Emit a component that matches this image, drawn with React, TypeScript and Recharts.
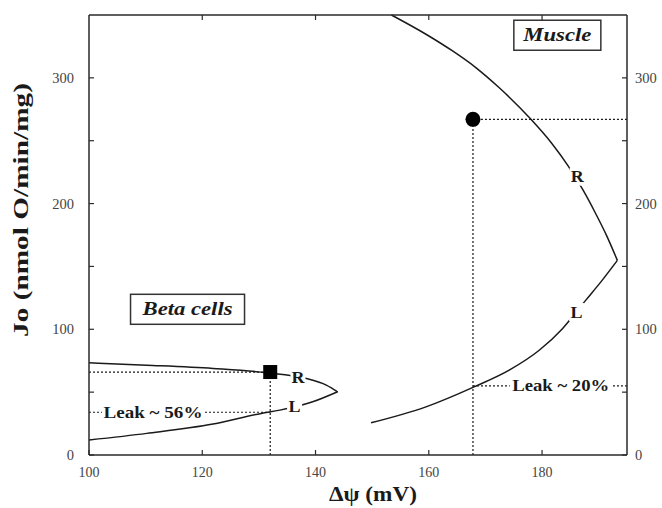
import React from "react";
import {
  ComposedChart,
  Line,
  Scatter,
  XAxis,
  YAxis,
  ReferenceLine,
  ReferenceDot,
} from "recharts";

const xTicks = [100, 120, 140, 160, 180];
const xTopTicks = [120, 140, 160, 180];
const yTicks = [0, 50, 100, 150, 200, 250, 300];

// muscle curve, upper (R) and lower (L) branch
const muscleUpper = [
  { x: 153.4, y: 350 },
  { x: 159.5, y: 334.7 },
  { x: 164.2, y: 321.4 },
  { x: 168.3, y: 308.2 },
  { x: 172.4, y: 292.3 },
  { x: 178.0, y: 267.2 },
  { x: 181.8, y: 247.4 },
  { x: 184.6, y: 230.0 },
  { x: 187.2, y: 211.0 },
  { x: 189.3, y: 193.5 },
  { x: 191.4, y: 174.5 },
  { x: 193.3, y: 154.8 },
];
const muscleLower = [
  { x: 149.8, y: 25.6 },
  { x: 159.5, y: 38.3 },
  { x: 168.0, y: 54.2 },
  { x: 174.2, y: 67.5 },
  { x: 179.5, y: 83.3 },
  { x: 183.6, y: 100.5 },
  { x: 187.7, y: 123 },
  { x: 190.6, y: 138.9 },
  { x: 193.3, y: 154.8 },
];

// beta cell curve
const betaUpper = [
  { x: 100, y: 73.3 },
  { x: 110.2, y: 71.4 },
  { x: 121.9, y: 68.8 },
  { x: 131.3, y: 65.5 },
  { x: 138.4, y: 60.8 },
  { x: 141.9, y: 55.6 },
  { x: 143.9, y: 50.3 },
];
const betaLower = [
  { x: 100, y: 11.9 },
  { x: 110.2, y: 17.2 },
  { x: 121.9, y: 24.6 },
  { x: 130.4, y: 33.1 },
  { x: 133.7, y: 35.7 },
  { x: 139.5, y: 42.3 },
  { x: 143.9, y: 50.3 },
];

const betaPoint = [{ x: 132, y: 66 }];
const musclePoint = [{ x: 167.8, y: 267 }];

const betaLeakY = 34;
const muscleLeakY = 55;

const W = 662;
const H = 508;
const LEFT_W = 89;
const RIGHT_W = 35;
const TOP = 14;
const BOTTOM_H = 53;
const PL = LEFT_W;
const PR = W - RIGHT_W;
const PT = TOP + 1;
const PB = H - BOTTOM_H;

const FONT = "Liberation Serif, DejaVu Serif, serif";
const INK = "#1a1a1a";
const AXIS = "#2a2a2a";
const TICK_TXT = "#444";

function BottomTick(props: any) {
  const { x, payload } = props;
  return (
    <g>
      <line x1={x} y1={PB} x2={x} y2={PB - 5} stroke={AXIS} strokeWidth={1.2} />
      <text x={x} y={PB + 22} textAnchor="middle" fontSize={14} fill={TICK_TXT} style={{ fontFamily: FONT }}>
        {payload.value}
      </text>
    </g>
  );
}

function TopTick(props: any) {
  const { x } = props;
  return <line x1={x} y1={PT} x2={x} y2={PT + 5} stroke={AXIS} strokeWidth={1.2} />;
}

function LeftTick(props: any) {
  const { y, payload } = props;
  const major = payload.value % 100 === 0;
  return (
    <g>
      <line x1={PL} y1={y} x2={PL + 5} y2={y} stroke={AXIS} strokeWidth={1.2} />
      {major && (
        <text x={74} y={y + 5} textAnchor="end" fontSize={14.5} fill={TICK_TXT} style={{ fontFamily: FONT }}>
          {payload.value}
        </text>
      )}
    </g>
  );
}

function RightTick(props: any) {
  const { y, payload } = props;
  const major = payload.value % 100 === 0;
  return (
    <g>
      <line x1={PR} y1={y} x2={PR - 5} y2={y} stroke={AXIS} strokeWidth={1.2} />
      {major && (
        <text x={PR + 8} y={y + 5} textAnchor="start" fontSize={14.5} fill={TICK_TXT} style={{ fontFamily: FONT }}>
          {payload.value}
        </text>
      )}
    </g>
  );
}

function tag(text: string, w: number, h: number, size: number, len: number, boxed = false, italic = false) {
  return (p: any) => (
    <g>
      <rect
        x={p.cx - w / 2}
        y={p.cy - h / 2}
        width={w}
        height={h}
        fill="#fff"
        stroke={boxed ? "#333" : "none"}
        strokeWidth={1.5}
      />
      <text
        x={p.cx - len / 2}
        y={p.cy + size * 0.34}
        textLength={len}
        lengthAdjust="spacingAndGlyphs"
        fontSize={size}
        fontWeight="bold"
        fontStyle={italic ? "italic" : "normal"}
        fill={INK}
        style={{ fontFamily: FONT }}
      >
        {text}
      </text>
    </g>
  );
}

const SquareMark = (p: any) => <rect x={p.cx - 7} y={p.cy - 7} width={14} height={14} fill="#000" />;
const CircleMark = (p: any) => <circle cx={p.cx} cy={p.cy} r={7.5} fill="#000" />;

const dotted = { stroke: INK, strokeWidth: 1.2, strokeDasharray: "2 2" };
const curve = { stroke: INK, strokeWidth: 1.5, dot: false, isAnimationActive: false, type: "monotone" as const };
const muscleAxes = { xAxisId: "top", yAxisId: "right" };

export default function App() {
  return (
    <div style={{ position: "absolute", left: 0, top: 0, background: "#fff" }}>
      <ComposedChart width={W} height={H} margin={{ top: TOP, right: 0, bottom: 0, left: 0 }}>
        <XAxis
          dataKey="x"
          type="number"
          domain={[100, 195]}
          ticks={xTicks}
          height={BOTTOM_H}
          tickLine={false}
          axisLine={{ stroke: AXIS, strokeWidth: 1.5 }}
          tick={<BottomTick />}
          label={{
            content: () => (
              <text
                x={329}
                y={501}
                textLength={88}
                lengthAdjust="spacingAndGlyphs"
                fontSize={21}
                fontWeight="bold"
                fill={INK}
                style={{ fontFamily: FONT }}
              >
                Δψ (mV)
              </text>
            ),
          }}
        />
        <XAxis
          xAxisId="top"
          dataKey="x"
          orientation="top"
          type="number"
          domain={[100, 195]}
          ticks={xTopTicks}
          height={1}
          tickLine={false}
          axisLine={{ stroke: AXIS, strokeWidth: 1.5 }}
          tick={<TopTick />}
        />
        <YAxis
          type="number"
          domain={[0, 350]}
          ticks={yTicks}
          width={LEFT_W}
          tickLine={false}
          axisLine={{ stroke: AXIS, strokeWidth: 1.5 }}
          tick={<LeftTick />}
          label={{
            content: () => (
              <text
                x={28}
                y={337}
                transform="rotate(-90 28 337)"
                textLength={254}
                lengthAdjust="spacingAndGlyphs"
                fontSize={22}
                fontWeight="bold"
                fill={INK}
                style={{ fontFamily: FONT }}
              >
                Jo (nmol O/min/mg)
              </text>
            ),
          }}
        />
        <YAxis
          yAxisId="right"
          orientation="right"
          type="number"
          domain={[0, 350]}
          ticks={yTicks}
          width={RIGHT_W}
          tickLine={false}
          axisLine={{ stroke: AXIS, strokeWidth: 1.5 }}
          tick={<RightTick />}
        />

        <ReferenceLine segment={[{ x: 100, y: betaPoint[0].y }, betaPoint[0]]} {...dotted} />
        <ReferenceLine segment={[{ x: betaPoint[0].x, y: 0 }, betaPoint[0]]} {...dotted} />
        <ReferenceLine segment={[{ x: 100, y: betaLeakY }, { x: betaPoint[0].x, y: betaLeakY }]} {...dotted} />
        <ReferenceLine segment={[musclePoint[0], { x: 195, y: musclePoint[0].y }]} {...dotted} {...muscleAxes} />
        <ReferenceLine segment={[{ x: musclePoint[0].x, y: 0 }, musclePoint[0]]} {...dotted} {...muscleAxes} />
        <ReferenceLine
          segment={[{ x: musclePoint[0].x, y: muscleLeakY }, { x: 195, y: muscleLeakY }]}
          {...dotted}
          {...muscleAxes}
        />

        <Line data={muscleUpper} dataKey="y" {...curve} {...muscleAxes} />
        <Line data={muscleLower} dataKey="y" {...curve} {...muscleAxes} />
        <Line data={betaUpper} dataKey="y" {...curve} />
        <Line data={betaLower} dataKey="y" {...curve} />

        <ReferenceDot x={111.3} y={betaLeakY} r={0} shape={tag("Leak ~ 56%", 102, 16, 16, 99)} />
        <ReferenceDot x={183.3} y={muscleLeakY} r={0} shape={tag("Leak ~ 20%", 102, 16, 16, 97)} {...muscleAxes} />
        <ReferenceDot x={136.9} y={61.6} r={0} shape={tag("R", 15, 16, 17, 13)} />
        <ReferenceDot x={136.3} y={38.9} r={0} shape={tag("L", 15, 16, 17, 12)} />
        <ReferenceDot x={186.2} y={221.4} r={0} shape={tag("R", 15, 18, 17, 13)} {...muscleAxes} />
        <ReferenceDot x={186.1} y={113.7} r={0} shape={tag("L", 15, 18, 17, 12)} {...muscleAxes} />
        <ReferenceDot x={117.4} y={115.9} r={0} shape={tag("Beta cells", 114, 30, 18, 90, true, true)} />
        <ReferenceDot x={182.7} y={333.9} r={0} shape={tag("Muscle", 87, 30, 18, 68, true, true)} {...muscleAxes} />

        <Scatter data={betaPoint} dataKey="y" shape={SquareMark} isAnimationActive={false} />
        <Scatter data={musclePoint} dataKey="y" shape={CircleMark} isAnimationActive={false} {...muscleAxes} />
      </ComposedChart>
    </div>
  );
}
